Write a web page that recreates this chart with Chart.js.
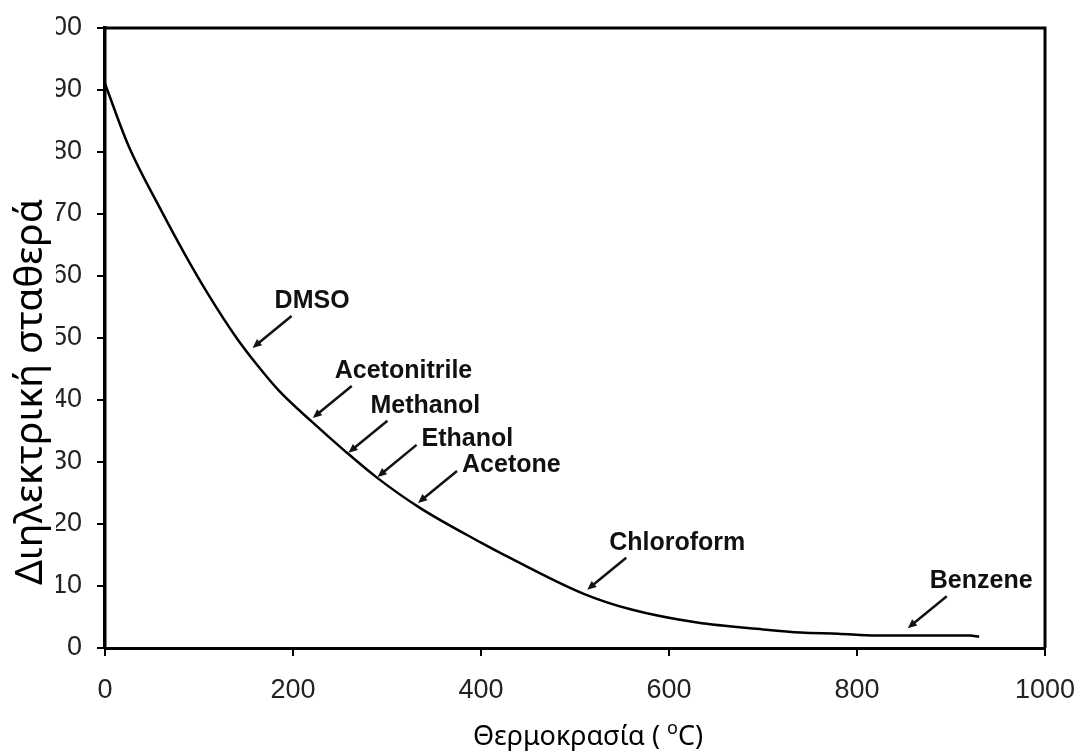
<!DOCTYPE html>
<html>
<head>
<meta charset="utf-8">
<script src="https://cdn.jsdelivr.net/npm/chart.js@4.4.1/dist/chart.umd.min.js"></script>
<style>
  body { margin: 0; background: #fff; }
  #wrap { width: 1080px; height: 751px; }
</style>
</head>
<body>
<div id="wrap"><canvas id="chart"></canvas></div>
<script>
// curve
var temps = [0, 25, 60, 85, 110, 140, 160, 185, 220, 255, 290, 335, 400, 420, 510, 560, 630, 700, 740, 780, 820, 870, 920, 930];
var dielectric = [91, 81, 70.5, 63.5, 57, 50, 46, 41.5, 36.5, 31.8, 27.4, 22.6, 17, 15.4, 8.7, 6.2, 4.1, 3.0, 2.5, 2.3, 2.0, 2.0, 2.0, 1.8];

// solvent marks: arrow tip (temperature, dielectric constant)
var solventNames = ["DMSO", "Acetonitrile", "Methanol", "Ethanol", "Acetone", "Chloroform", "Benzene"];
var solventTemps = [157, 221, 259, 290, 333, 513, 854];
var solventValues = [48.4, 37.1, 31.5, 27.6, 23.4, 9.4, 3.2];
var labelSide = ["above", "above", "above", "right", "right", "above", "above"];

var xTitle = "Θερμοκρασία (";
var yTitle = "Διηλεκτρική σταθερά";

var PLOT_LEFT = 105;
var PLOT_BOTTOM_GAP = 103;

var framePlugin = {
  id: "frame",
  afterDatasetsDraw: function(chart) {
    var ctx = chart.ctx;
    var xs = chart.scales.x, ys = chart.scales.y;
    ctx.save();
    ctx.strokeStyle = "#111";
    ctx.fillStyle = "#111";
    ctx.lineWidth = 2.5;
    for (var i = 0; i < solventNames.length; i++) {
      var tx = xs.getPixelForValue(solventTemps[i]);
      var ty = ys.getPixelForValue(solventValues[i]);
      var sx = tx + 39, sy = ty - 32;
      var ang = Math.atan2(ty - sy, tx - sx);
      ctx.beginPath();
      ctx.moveTo(sx, sy);
      ctx.lineTo(tx - 5 * Math.cos(ang), ty - 5 * Math.sin(ang));
      ctx.stroke();
      // little head
      ctx.beginPath();
      ctx.moveTo(tx, ty);
      ctx.lineTo(tx - 9 * Math.cos(ang) + 4 * Math.sin(ang), ty - 9 * Math.sin(ang) - 4 * Math.cos(ang));
      ctx.lineTo(tx - 9 * Math.cos(ang) - 4 * Math.sin(ang), ty - 9 * Math.sin(ang) + 4 * Math.cos(ang));
      ctx.closePath();
      ctx.fill();
      ctx.font = "bold 25px 'Liberation Sans', Arial, sans-serif";
      ctx.textAlign = "left";
      ctx.textBaseline = "middle";
      if (labelSide[i] == "right") {
        ctx.fillText(solventNames[i], sx + 5, sy - 6);
      } else {
        ctx.fillText(solventNames[i], sx - 17, sy - 15);
      }
    }
    ctx.restore();
  },
  afterDraw: function(chart) {
    var ctx = chart.ctx;
    var a = chart.chartArea;
    ctx.save();
    // top and right edges of the box
    ctx.strokeStyle = "#000";
    ctx.lineWidth = 3;
    ctx.beginPath();
    ctx.moveTo(a.left, a.top);
    ctx.lineTo(a.right, a.top);
    ctx.lineTo(a.right, a.bottom);
    ctx.stroke();
    // the y title box hides the left side of the tick labels
    ctx.fillStyle = "#fff";
    ctx.fillRect(0, 0, 56, 630);
    ctx.fillStyle = "#000";
    ctx.font = "39px 'Noto Sans', 'Open Sans', sans-serif";
    ctx.textAlign = "center";
    ctx.textBaseline = "middle";
    ctx.translate(31, 392);
    ctx.rotate(-Math.PI / 2);
    ctx.fillText(yTitle, 0, 0);
    ctx.restore();

    // x title with raised small o
    ctx.save();
    ctx.fillStyle = "#000";
    ctx.textBaseline = "alphabetic";
    ctx.textAlign = "left";
    var big = "27px 'Noto Sans', 'Open Sans', sans-serif";
    var small = "18px 'Noto Sans', 'Open Sans', sans-serif";
    ctx.font = big;
    var w1 = ctx.measureText(xTitle + " ").width;
    var w3 = ctx.measureText("C)").width;
    ctx.font = small;
    var w2 = ctx.measureText("o").width;
    var x0 = 588 - (w1 + w2 + w3) / 2;
    var base = 745;
    ctx.font = big;
    ctx.fillText(xTitle + " ", x0, base);
    ctx.font = small;
    ctx.fillText("o", x0 + w1, base - 11);
    ctx.font = big;
    ctx.fillText("C)", x0 + w1 + w2, base);
    ctx.restore();
  }
};

var tickFont = { family: "'Liberation Sans', Arial, sans-serif", size: 27 };

new Chart(document.getElementById("chart"), {
  type: "line",
  data: {
    datasets: [{
      data: temps.map(function(t, i) { return { x: t, y: dielectric[i] }; }),
      borderColor: "#000",
      borderWidth: 2.5,
      pointRadius: 0,
      fill: false,
      cubicInterpolationMode: "monotone"
    }]
  },
  options: {
    responsive: true,
    maintainAspectRatio: false,
    animation: false,
    layout: { padding: { left: 0, top: 28, right: 35, bottom: 0 } },
    plugins: { legend: { display: false }, tooltip: { enabled: false } },
    scales: {
      x: {
        type: "linear",
        min: 0,
        max: 1000,
        afterFit: function(s) {
          s.height = PLOT_BOTTOM_GAP;
          s.paddingLeft = 0;
          s.paddingRight = 0;
        },
        ticks: {
          stepSize: 200, color: "#222", font: tickFont, padding: 18, maxRotation: 0,
          callback: function(v) { return String(v); }
        },
        grid: { drawOnChartArea: false, drawTicks: true, tickLength: 8, color: "#000", lineWidth: 2 },
        border: { display: true, color: "#000", width: 3 }
      },
      y: {
        min: 0,
        max: 100,
        afterFit: function(s) {
          s.width = PLOT_LEFT;
          s.paddingTop = 0;
          s.paddingBottom = 0;
        },
        ticks: { stepSize: 10, color: "#222", font: tickFont, padding: 15 },
        grid: { drawOnChartArea: false, drawTicks: true, tickLength: 8, color: "#000", lineWidth: 2 },
        border: { display: true, color: "#000", width: 3.5 }
      }
    }
  },
  plugins: [framePlugin]
});
</script>
</body>
</html>
